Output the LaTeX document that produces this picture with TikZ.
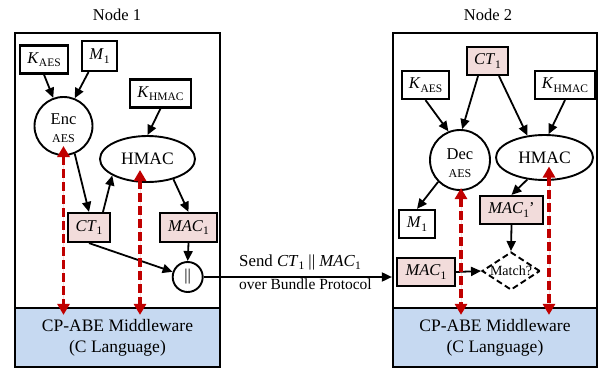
\documentclass[tikz,border=0pt]{standalone}
\usepackage{fontspec}
\setmainfont{Liberation Serif}
\usetikzlibrary{arrows.meta,calc,shapes.geometric}
\definecolor{pinkf}{HTML}{F2DCDB}
\definecolor{bandf}{HTML}{C6D9F1}
\definecolor{redd}{HTML}{C00000}
\newcommand{\lsub}[1]{\raisebox{-0.45ex}{\fontsize{11.5}{11.5}\selectfont #1}}
\begin{document}
\begin{tikzpicture}[x=1pt,y=-1pt,
  every node/.style={font=\fontsize{16.5}{19}\selectfont, inner sep=0pt},
  frame/.style={draw, line width=2.2pt},
  band/.style={draw, line width=2.2pt, fill=bandf, align=center, font=\fontsize{17.5}{21}\selectfont},
  kbox/.style={draw, line width=2.2pt, fill=white, minimum height=28pt},
  pbox/.style={draw, line width=2.2pt, fill=pinkf, minimum height=28pt},
  op/.style={draw, line width=1.9pt},
  arr/.style={-{Triangle[length=10pt,width=9pt]}, line width=1.8pt},
  redarr/.style={{Triangle[length=11pt,width=12pt]}-{Triangle[length=11pt,width=12pt]}, line width=3.8pt, draw=redd, fill=redd, dash pattern=on 9pt off 4pt},
  small/.style={font=\fontsize{12}{13}\selectfont}
]
\useasboundingbox (0,0) rectangle (602,369);

% ---------- Node 1 ----------
\node (t1) at (117,15) {Node 1};
\node[frame, minimum width=205pt, minimum height=334pt] (f1) at (117.5,200) {};
\node[band, minimum width=205pt, minimum height=59pt] (b1) at (117.5,337.5) {CP-ABE Middleware\\(C Language)};

\node[kbox, minimum width=48pt] (kaes1) at (44,59.5) {\textit{K}\lsub{AES}};
\node[kbox, minimum width=35pt, minimum height=30pt] (m1) at (99.5,56) {\textit{M}\lsub{1}};
\node[kbox, minimum width=61pt] (khmac1) at (160.5,93.5) {\textit{K}\lsub{HMAC}};
\node[op, circle, minimum size=58pt] (enc) at (63.5,126) {};
\node (enct) at (63.5,119) {Enc};
\node[small] (encs) at (63.5,139) {AES};
\node[op, ellipse, minimum width=95pt, minimum height=46pt, font=\fontsize{17.5}{19}\selectfont] (hmac1) at (147.5,159) {HMAC};
\node[pbox, minimum width=42pt, minimum height=29pt] (ct1) at (89,227.5) {\textit{CT}\lsub{1}};
\node[pbox, minimum width=57pt, minimum height=29pt] (mac1) at (188.5,227.5) {\textit{MAC}\lsub{1}};
\node[op, circle, minimum size=30pt] (cc) at (187.7,277) {||};

\draw[arr] (kaes1.south) -- (enc.110);
\draw[arr] ($(m1.south)+(-11,0)$) -- (enc.68);
\draw[arr] (khmac1.south) -- (hmac1.north);
\draw[arr] (enc.292) -- (ct1.north);
\draw[arr] ($(ct1.north)+(14,0)$) -- (hmac1.205);
\draw[arr] (hmac1.322) -- (mac1.north);
\draw[arr] (mac1.south) -- (cc.north);
\draw[arr] (ct1.south) -- (cc);

\draw[redarr] ($(enc.center)+(0,20)$) -- ($(enc |- b1.north)+(0,8)$);
\draw[redarr] ($(hmac1.center)+(-7.5,11)$) -- ($(hmac1.center |- b1.north)+(-7.5,8)$);

% ---------- Node 2 ----------
\node (t2) at (488,15) {Node 2};
\node[frame, minimum width=204pt, minimum height=334pt] (f2) at (495,200) {};
\node[band, minimum width=204pt, minimum height=59pt] (b2) at (495,337.5) {CP-ABE Middleware\\(C Language)};

\node[pbox, minimum width=41pt] (ct2) at (487.5,61) {\textit{CT}\lsub{1}};
\node[kbox, minimum width=47pt] (kaes2) at (425.5,85) {\textit{K}\lsub{AES}};
\node[kbox, minimum width=60pt] (khmac2) at (565,85) {\textit{K}\lsub{HMAC}};
\node[op, circle, minimum size=60pt] (dec) at (460,160) {};
\node (dect) at (460,154) {Dec};
\node[small] (decs) at (460,174) {AES};
\node[op, ellipse, minimum width=97pt, minimum height=45pt, font=\fontsize{17.5}{19}\selectfont] (hmac2) at (544.5,157.5) {HMAC};
\node[kbox, minimum width=36pt] (m2) at (417,224) {\textit{M}\lsub{1}};
\node[pbox, minimum width=63pt] (macp) at (511.5,210) {\textit{MAC}\lsub{1}’};
\node[pbox, minimum width=58pt] (mac2) at (426,272) {\textit{MAC}\lsub{1}};
\node[op, diamond, dash pattern=on 6pt off 3.5pt, aspect=1.5, minimum width=58pt, minimum height=38pt, font=\fontsize{14}{15}\selectfont] (match) at (511,271) {Match?};

\draw[arr] ($(ct2.south)+(-9.5,0)$) -- (dec.86);
\draw[arr] ($(ct2.south)+(11.5,0)$) -- (hmac2.128);
\draw[arr] (kaes2.south) -- (dec.112);
\draw[arr] (khmac2.south) -- (hmac2.80);
\draw[arr] (dec.225) -- (m2.north);
\draw[arr] (hmac2.232) -- (macp.north);
\draw[arr] (macp.south) -- (match.north);
\draw[arr] (mac2.east) -- (match.west);

\draw[redarr] ($(dec.center)+(1,28)$) -- ($(dec.center |- b2.north)+(1,8)$);
\draw[redarr] ($(hmac2.center)+(4.5,9)$) -- ($(hmac2.center |- b2.north)+(4.5,8)$);

% ---------- Transfer ----------
\draw[arr] (cc.east) -- (cc.east -| f2.west);
\node[anchor=west, font=\fontsize{16.8}{18}\selectfont] (send) at (239,262) {Send \textit{CT}\lsub{1} || \textit{MAC}\lsub{1}};
\node[anchor=west, font=\fontsize{15.5}{17}\selectfont] (over) at (239,284) {over Bundle Protocol};
\end{tikzpicture}
\end{document}
